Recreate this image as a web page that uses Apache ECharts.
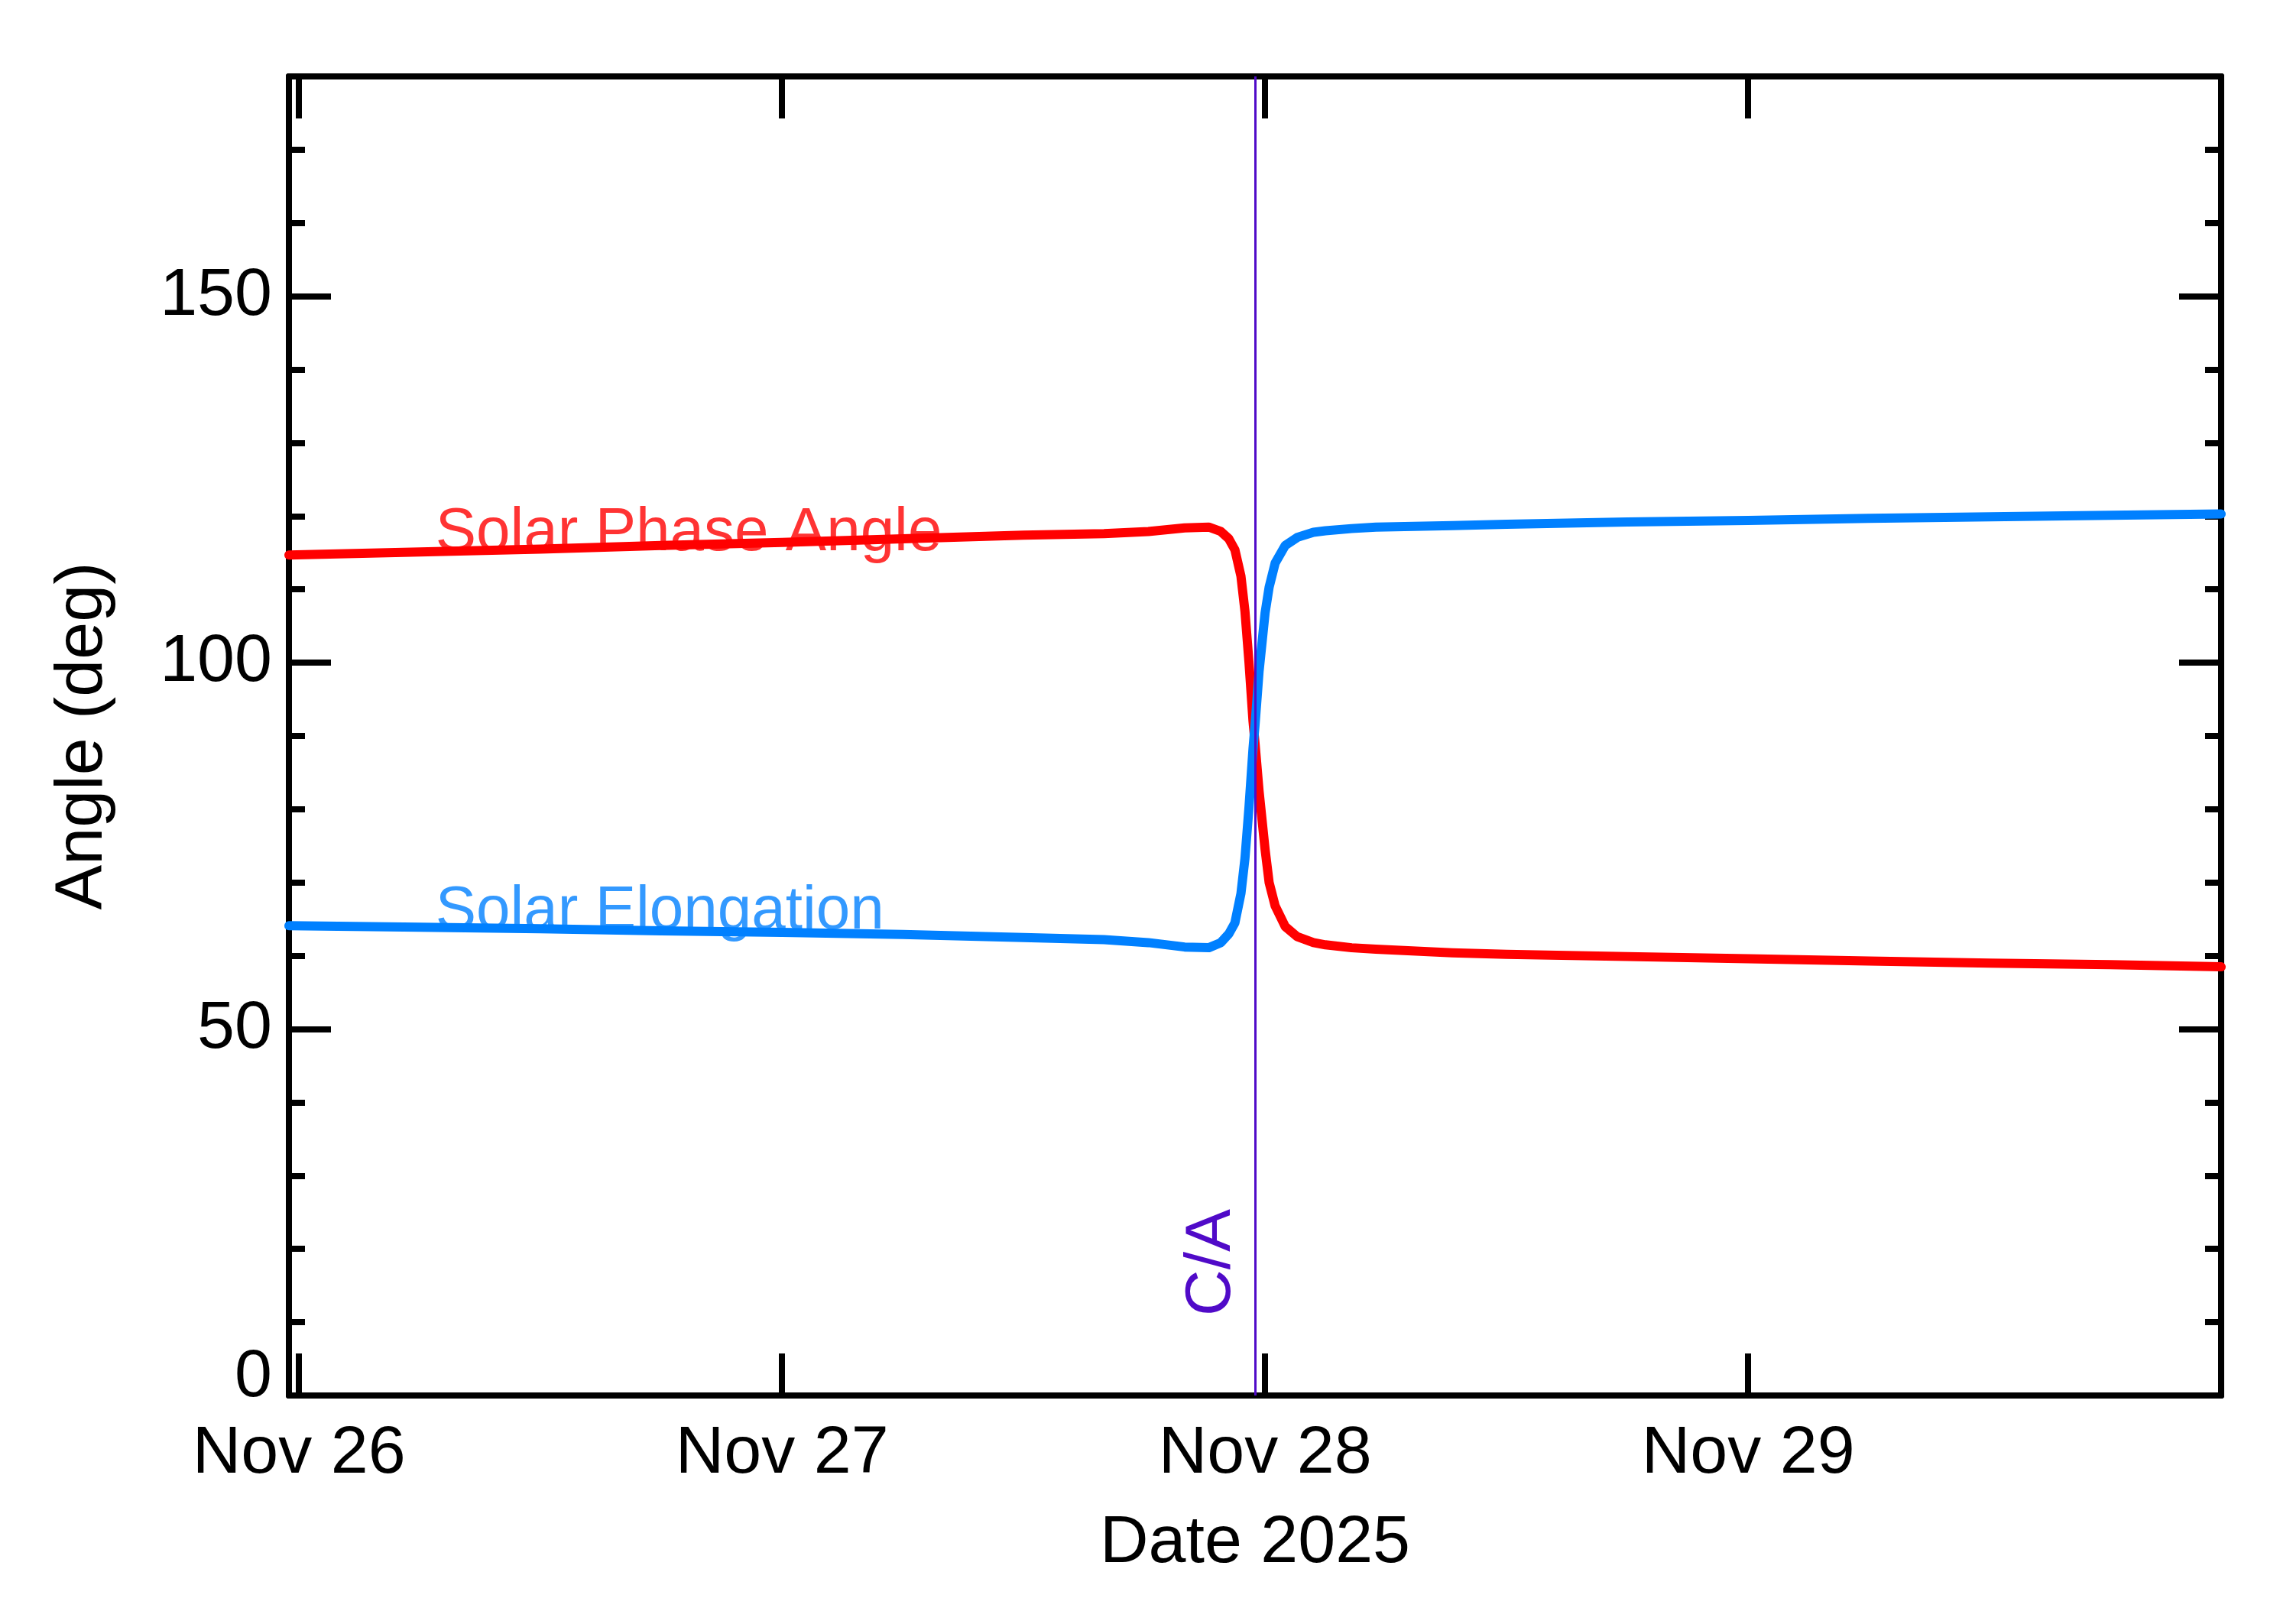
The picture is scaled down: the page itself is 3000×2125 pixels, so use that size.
<!DOCTYPE html>
<html>
<head>
<meta charset="utf-8">
<script src="https://cdn.jsdelivr.net/npm/echarts@6/dist/echarts.min.js"></script>
<style>
html,body{margin:0;padding:0;background:#fff;}
#chart{width:3000px;height:2125px;}
</style>
</head>
<body>
<div id="chart"></div>
<script>
// Hours since Nov 26 2025 00:00
const hours = [-0.5, 6, 12, 18, 24, 30, 36, 40, 42.2, 44, 45.2, 45.8, 46.2, 46.5, 46.8, 47.0, 47.2, 47.4, 47.5, 47.7, 48.0, 48.2, 48.5, 49.0, 49.6, 50.4, 51.0, 52.3, 53.5, 57.3, 60, 66, 72, 78, 84, 90, 95.5];
const phaseAngle = [114.7, 115.1, 115.5, 116.0, 116.4, 116.9, 117.4, 117.6, 117.9, 118.4, 118.5, 117.9, 116.9, 115.4, 111.8, 107.0, 100.0, 92.0, 89.0, 82.5, 74.5, 70.0, 66.8, 64.0, 62.6, 61.8, 61.5, 61.1, 60.9, 60.4, 60.2, 59.9, 59.6, 59.3, 59.0, 58.8, 58.5];
const elongation = [64.1, 63.9, 63.7, 63.4, 63.2, 62.9, 62.5, 62.2, 61.8, 61.2, 61.1, 61.8, 63.0, 64.5, 68.5, 73.3, 80.3, 88.3, 91.5, 98.8, 106.8, 110.3, 113.6, 116.0, 117.1, 117.8, 118.0, 118.3, 118.5, 118.7, 118.9, 119.2, 119.4, 119.7, 119.9, 120.1, 120.3];

const xTickHours = [0, 24, 48, 72];
const xTickLabels = ['Nov 26', 'Nov 27', 'Nov 28', 'Nov 29'];
const yTickValues = [0, 50, 100, 150];
const closeApproachHour = 47.5;
const seriesNames = ['Solar Phase Angle', 'Solar Elongation'];
const seriesLabelAnchors = [[6.8, 113.4], [6.8, 61.8]];

const FONT = 'Liberation Sans, Arial, Helvetica, sans-serif';
const RED = '#ff0000', BLUE = '#0080ff', PURPLE = '#500ac8';

const chart = echarts.init(document.getElementById('chart'), null, {renderer: 'canvas'});

function xAxisBase(pos, showLabels) {
  return {
    type: 'value', min: -0.5, max: 95.5, position: pos,
    axisLine: {show: true, onZero: false, lineStyle: {color: '#000', width: 8}},
    axisTick: {show: true, inside: true, length: 55, customValues: xTickHours, lineStyle: {color: '#000', width: 8}},
    axisLabel: showLabels ? {
      show: true, customValues: xTickHours, margin: 33,
      formatter: v => xTickLabels[xTickHours.indexOf(v)] || '',
      color: '#000', fontSize: 88, fontFamily: FONT
    } : {show: false},
    splitLine: {show: false}
  };
}
function yAxisBase(pos, interval, tickLen, showLabels) {
  return {
    type: 'value', min: 0, max: 180, interval: interval, position: pos,
    axisLine: {show: true, onZero: false, lineStyle: {color: '#000', width: 8}},
    axisTick: {show: true, inside: true, length: tickLen, lineStyle: {color: '#000', width: 8}},
    axisLabel: showLabels ? {
      show: true, customValues: yTickValues, margin: 22,
      formatter: v => v === 0 ? '{z|0}' : String(v),
      rich: {z: {fontSize: 88, fontFamily: FONT, color: '#000', padding: [0, 0, 46, 0]}},
      color: '#000', fontSize: 88, fontFamily: FONT
    } : {show: false},
    splitLine: {show: false}
  };
}

const xBottom = xAxisBase('bottom', true);
xBottom.name = 'Date 2025';
xBottom.nameLocation = 'middle';
xBottom.nameGap = 150;
xBottom.nameTextStyle = {color: '#000', fontSize: 88, fontFamily: FONT};

const yLeft = yAxisBase('left', 50, 55, true);
yLeft.name = 'Angle (deg)';
yLeft.nameLocation = 'middle';
yLeft.nameGap = 225;
yLeft.nameTextStyle = {color: '#000', fontSize: 88, fontFamily: FONT};

function zip(xs, ys) { return xs.map((x, i) => [x, ys[i]]); }

const option = {
  animation: false,
  backgroundColor: '#fff',
  grid: {left: 378, right: 94, top: 100, bottom: 299, containLabel: false},
  xAxis: [xBottom, xAxisBase('top', false)],
  yAxis: [yLeft, yAxisBase('left', 10, 21, false), yAxisBase('right', 50, 55, false), yAxisBase('right', 10, 21, false)],
  series: [
    {
      name: seriesNames[0], type: 'line', data: zip(hours, phaseAngle),
      showSymbol: false, symbol: 'none', smooth: false,
      lineStyle: {color: RED, width: 12, join: 'round', cap: 'round'},
      z: 3,
      markLine: {
        silent: true, symbol: ['none', 'none'], animation: false,
        lineStyle: {color: PURPLE, width: 3, type: 'solid'},
        label: {show: true, formatter: 'C/A', position: 'insideStartTop', color: PURPLE, fontSize: 84, fontFamily: FONT, distance: [104, 14]},
        data: [{xAxis: closeApproachHour}]
      }
    },
    {
      name: seriesNames[1], type: 'line', data: zip(hours, elongation),
      showSymbol: false, symbol: 'none', smooth: false,
      lineStyle: {color: BLUE, width: 12, join: 'round', cap: 'round'},
      z: 3
    },
    {
      type: 'scatter', data: [seriesLabelAnchors[0]], symbolSize: 1, silent: true,
      itemStyle: {color: 'rgba(0,0,0,0)'}, z: 5,
      label: {show: true, position: [0, 0], align: 'left', verticalAlign: 'bottom', formatter: seriesNames[0], color: RED, fontSize: 80, fontFamily: FONT}
    },
    {
      type: 'scatter', data: [seriesLabelAnchors[1]], symbolSize: 1, silent: true,
      itemStyle: {color: 'rgba(0,0,0,0)'}, z: 5,
      label: {show: true, position: [0, 0], align: 'left', verticalAlign: 'bottom', formatter: seriesNames[1], color: BLUE, fontSize: 80, fontFamily: FONT}
    }
  ]
};
chart.setOption(option);
</script>
</body>
</html>
